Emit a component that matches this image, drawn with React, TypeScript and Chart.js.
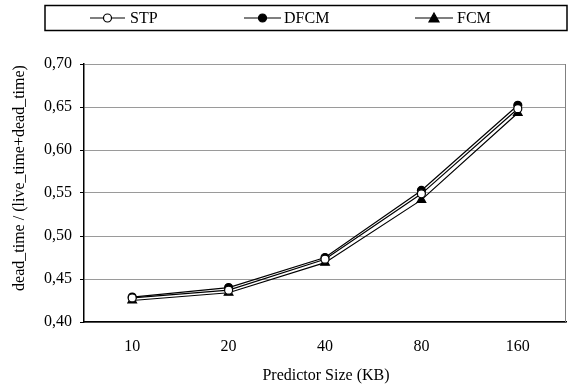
import React, { useEffect, useRef } from "react";
import { Chart, registerables } from "chart.js";

Chart.register(...registerables);

const categories = ["10", "20", "40", "80", "160"];
const stpValues = [0.428, 0.437, 0.473, 0.549, 0.648];
const dfcmValues = [0.429, 0.440, 0.475, 0.553, 0.652];
const fcmValues = [0.425, 0.434, 0.469, 0.542, 0.643];
const seriesNames = ["STP", "DFCM", "FCM"];
const yTitle = "dead_time / (live_time+dead_time)";
const xTitle = "Predictor Size (KB)";

const FONT = "'Liberation Serif', 'Times New Roman', serif";

const decorPlugin = {
  id: "decor",
  afterDraw(chart: any) {
    const ctx = chart.ctx;
    const ca = chart.chartArea;
    ctx.save();
    // right border of plot
    ctx.strokeStyle = "#808080";
    ctx.lineWidth = 1;
    ctx.beginPath();
    ctx.moveTo(ca.right - 0.5, ca.top);
    ctx.lineTo(ca.right - 0.5, ca.bottom);
    ctx.stroke();

    // legend box
    ctx.strokeStyle = "#000";
    ctx.lineWidth = 1.5;
    ctx.strokeRect(45, 5.5, 522, 25);

    const items = [
      { x1: 90, x2: 125, tx: 130 },
      { x1: 244, x2: 281, tx: 284 },
      { x1: 415, x2: 453, tx: 457 },
    ];
    const cy = 18;
    chart.data.datasets.forEach((ds: any, i: number) => {
      const it = items[i];
      ctx.strokeStyle = "#000";
      ctx.lineWidth = 1.2;
      ctx.beginPath();
      ctx.moveTo(it.x1, cy);
      ctx.lineTo(it.x2, cy);
      ctx.stroke();
      const mx = (it.x1 + it.x2) / 2;
      ctx.fillStyle = ds.pointBackgroundColor;
      ctx.strokeStyle = "#000";
      ctx.lineWidth = 1.2;
      ctx.beginPath();
      if (ds.pointStyle === "triangle") {
        ctx.moveTo(mx, cy - 5);
        ctx.lineTo(mx + 5, cy + 4);
        ctx.lineTo(mx - 5, cy + 4);
        ctx.closePath();
      } else {
        ctx.arc(mx, cy, 4, 0, Math.PI * 2);
      }
      ctx.fill();
      ctx.stroke();
      ctx.fillStyle = "#000";
      ctx.font = `16px ${FONT}`;
      ctx.textBaseline = "middle";
      ctx.textAlign = "left";
      ctx.fillText(seriesNames[i], it.tx, cy + 1);
    });

    // axis titles
    ctx.fillStyle = "#000";
    ctx.font = `16px ${FONT}`;
    ctx.textAlign = "center";
    ctx.textBaseline = "middle";
    ctx.fillText(xTitle, 326, 376);
    ctx.save();
    ctx.translate(20, 178);
    ctx.rotate(-Math.PI / 2);
    ctx.fillText(yTitle, 0, 0);
    ctx.restore();
    ctx.restore();
  },
};

export default function App() {
  const ref = useRef<HTMLCanvasElement>(null);
  useEffect(() => {
    if (!ref.current) return;
    const mk = (label: string, data: number[], bg: string, style: string, r: number) => ({
      label,
      data,
      borderColor: "#000",
      borderWidth: 1.2,
      pointStyle: style,
      pointRadius: r,
      pointBackgroundColor: bg,
      pointBorderColor: "#000",
      pointBorderWidth: 1.2,
      tension: 0,
      fill: false,
    });
    const chart = new Chart(ref.current, {
      type: "line",
      data: {
        labels: categories,
        datasets: [
          mk(seriesNames[0], stpValues, "#fff", "circle", 4),
          mk(seriesNames[1], dfcmValues, "#000", "circle", 4),
          mk(seriesNames[2], fcmValues, "#000", "triangle", 5),
        ],
      },
      options: {
        animation: false,
        responsive: false,
        maintainAspectRatio: false,
        layout: { autoPadding: false, padding: { top: 64, right: 2, left: 0, bottom: 0 } },
        plugins: {
          legend: { display: false },
          tooltip: { enabled: false },
        },
        scales: {
          x: {
            type: "category",
            offset: true,
            grid: { display: false, drawTicks: false },
            border: { display: true, color: "#000", width: 1.5 },
            ticks: {
              color: "#000",
              padding: 15,
              font: { family: FONT, size: 16 },
            },
            afterFit: (s: any) => {
              s.height = 65;
              s.paddingLeft = 0;
              s.paddingRight = 0;
            },
          },
          y: {
            min: 0.4,
            max: 0.7,
            grid: {
              color: "#9a9a9a",
              lineWidth: 1,
              tickLength: 4,
              tickColor: "#000",
            },
            border: { display: true, color: "#000", width: 1.5 },
            ticks: {
              stepSize: 0.05,
              color: "#000",
              padding: 8,
              font: { family: FONT, size: 16 },
              callback: (v: any) => Number(v).toFixed(2).replace(".", ","),
            },
            afterFit: (s: any) => {
              s.width = 84;
            },
          },
        },
      },
      plugins: [decorPlugin],
    } as any);
    return () => chart.destroy();
  }, []);
  return (
    <div style={{ position: "fixed", left: 0, top: 0, width: 568, height: 387, background: "#fff" }}>
      <canvas ref={ref} width={568} height={387} style={{ width: 568, height: 387, display: "block" }} />
    </div>
  );
}
